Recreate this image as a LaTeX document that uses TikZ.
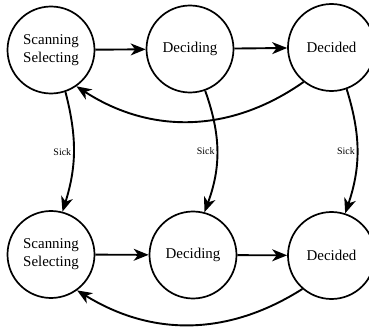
\documentclass[tikz,border=0pt]{standalone}
\usepackage{fontspec}
\setmainfont{Liberation Serif}
\usetikzlibrary{arrows.meta}
\begin{document}
\begin{tikzpicture}[x=1bp,y=1bp,
  state/.style={circle, draw, line width=1.7bp, minimum size=87bp, inner sep=0pt,
    align=center, font=\fontsize{15}{18}\selectfont},
  trans/.style={line width=1.9bp, -{Stealth[length=15bp,width=12bp,inset=4.5bp]}},
  lbl/.style={font=\fontsize{10}{12}\selectfont, inner sep=1.5bp}]
\useasboundingbox (0,0) rectangle (369,327);

% upper row of states
\node[state] (a1) at (51,277) {Scanning\\Selecting};
\node[state] (a2) at (190,278) {Deciding};
\node[state] (a3) at (331.5,279.5) {Decided};

% lower row of states
\node[state] (b1) at (51,72.5) {Scanning\\Selecting};
\node[state] (b2) at (193,72) {Deciding};
\node[state] (b3) at (331.5,71.5) {Decided};

% forward transitions
\draw[trans] (a1) -- (a2);
\draw[trans] (a2) -- (a3);
\draw[trans] (b1) -- (b2);
\draw[trans] (b2) -- (b3);

% return transitions
\draw[trans] (a3.-129) to[bend left=34] (a1.-55);
\draw[trans] (b3.-131) to[bend left=32] (b1.-54);

% sick transitions between the rows
\draw[trans] (a1.-71) to[bend left=16] node[lbl, left] {Sick} (b1.75);
\draw[trans] (a2.-70) to[bend left=20] node[lbl, left] {Sick} (b2.75);
\draw[trans] (a3.-70) to[bend left=18] node[lbl, left] {Sick} (b3.72);
\end{tikzpicture}
\end{document}
